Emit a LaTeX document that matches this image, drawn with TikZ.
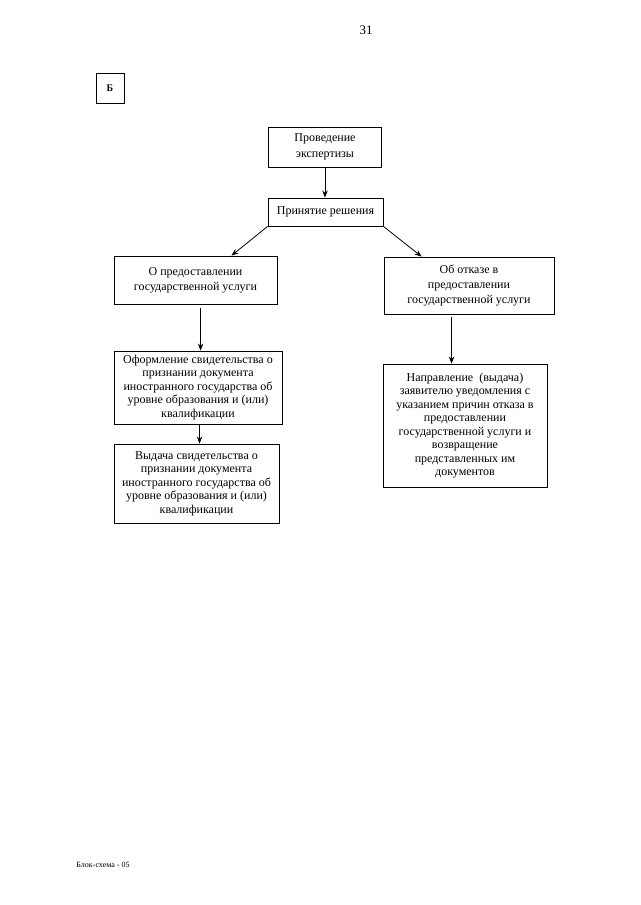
\documentclass[tikz,border=0pt]{standalone}
\usepackage{fontspec}
\setmainfont{Liberation Serif}
\usetikzlibrary{arrows.meta,calc}
\begin{document}
\begin{tikzpicture}[x=1pt,y=-1pt,
  box/.style={draw,line width=0.9pt,rectangle,align=center,inner sep=2pt,
    font=\fontsize{12}{13.5}\selectfont},
  arr/.style={line width=0.8pt,-{Stealth[length=7pt,width=5.5pt]}}]
\useasboundingbox[fill=white] (0,0) rectangle (640,905);
\node[font=\fontsize{13}{15}\selectfont] (pg) at (366,30) {31};
\node[box,minimum width=28pt,minimum height=30pt,font=\fontsize{10}{12}\selectfont\bfseries] (b) at (110,88) {Б};
\node[box,minimum width=113pt,minimum height=40pt,font=\fontsize{12}{15.5}\selectfont] (n1) at (325,147) {Проведение\\экспертизы};
\node[box,minimum width=115pt,minimum height=28pt] (n2) at (325.5,212) {Принятие решения};
\node[box,minimum width=163pt,minimum height=48pt,font=\fontsize{12}{15}\selectfont] (n3) at (195.5,280) {О предоставлении\\государственной услуги};
\node[box,minimum width=170pt,minimum height=57pt,font=\fontsize{12}{15}\selectfont] (n4) at (469,285.5) {Об отказе в\\предоставлении\\государственной услуги};
\node[box,minimum width=168pt,minimum height=73pt] (n5) at (198,387.5) {Оформление свидетельства о\\признании документа\\иностранного государства об\\уровне образования и (или)\\квалификации};
\node[box,minimum width=165pt,minimum height=79pt] (n6) at (196.5,483.5) {Выдача свидетельства о\\признании документа\\иностранного государства об\\уровне образования и (или)\\квалификации};
\node[box,minimum width=164pt,minimum height=123pt] (n7) at (465,425.5) {Направление~ (выдача)\\заявителю уведомления с\\указанием причин отказа в\\предоставлении\\государственной услуги и\\возвращение\\представленных им\\документов};
\node[font=\fontsize{8}{9}\selectfont] (ft) at (103,865) {Блок-схема - 05};
\draw[arr] (n1.south) -- (n1.south |- n2.north);
\draw[arr] (n2.south west) -- ([xshift=118pt]n3.north west);
\draw[arr] (n2.south east) -- ([xshift=38pt]n4.north west);
\draw[arr,shorten <=4pt] ([xshift=87pt]n3.south west) -- ([xshift=87pt]n5.north west);
\draw[arr] ([xshift=86pt]n5.south west) -- ([xshift=86pt]n6.north west);
\draw[arr,shorten <=3pt] ([xshift=68pt]n4.south west) -- ([xshift=69pt]n7.north west);
\end{tikzpicture}
\end{document}
